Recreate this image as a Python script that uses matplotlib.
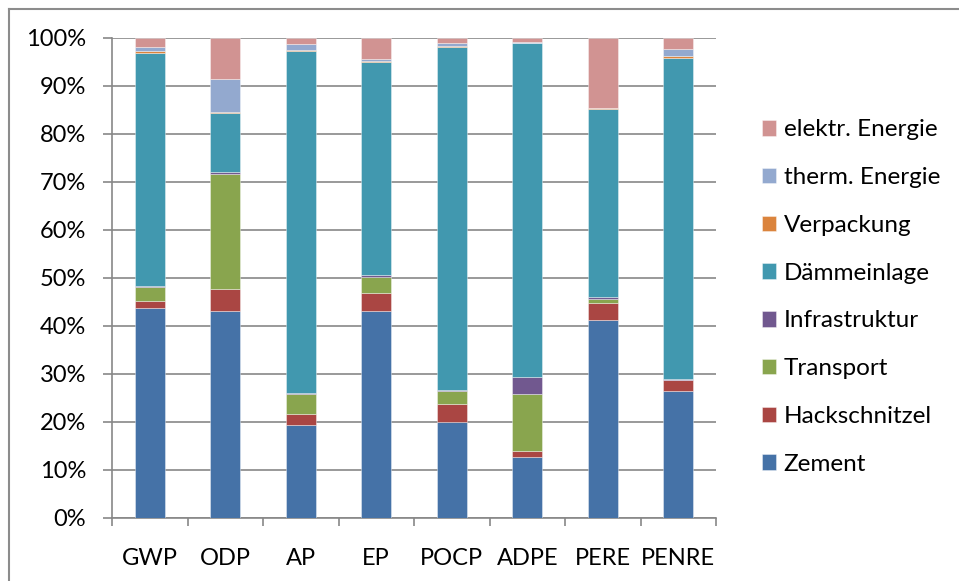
import matplotlib
matplotlib.use("Agg")
import matplotlib.pyplot as plt
from matplotlib.lines import Line2D
import numpy as np

plt.rcParams['font.family'] = ['Lato', 'DejaVu Sans']

categories = ["GWP", "ODP", "AP", "EP", "POCP", "ADPE", "PERE", "PENRE"]
series_names = ["Zement", "Hackschnitzel", "Transport", "Infrastruktur",
                "Dämmeinlage", "Verpackung", "therm. Energie", "elektr. Energie"]
zement =          [43.7, 43.0, 19.2, 43.1, 20.0, 12.7, 41.1, 26.4]
hackschnitzel =   [1.4, 4.6, 2.4, 3.8, 3.6, 1.2, 3.6, 2.2]
transport =       [3.0, 24.1, 4.2, 3.3, 2.8, 11.9, 0.9, 0.1]
infrastruktur =   [0.1, 0.4, 0.2, 0.4, 0.2, 3.6, 0.3, 0.1]
daemmeinlage =    [48.7, 12.3, 71.2, 44.3, 71.5, 69.5, 39.2, 67.1]
verpackung =      [0.3, 0.2, 0.2, 0.3, 0.3, 0.1, 0.3, 0.4]
therm_energie =   [1.0, 6.8, 1.4, 0.5, 0.6, 0.1, 0.1, 1.4]
elektr_energie =  [1.8, 8.6, 1.2, 4.3, 1.0, 0.9, 14.5, 2.3]
colors = ["#4572A7", "#AA4643", "#89A54E", "#71588F",
          "#4198AF", "#DB843D", "#93A9CF", "#D19392"]

data = [zement, hackschnitzel, transport, infrastruktur,
        daemmeinlage, verpackung, therm_energie, elektr_energie]

W, H = 959, 581
fig = plt.figure(figsize=(W / 100, H / 100), dpi=100)
ax = fig.add_axes([112 / W, 1 - 517.5 / H, (716 - 112) / W, (517.5 - 38) / H])

x = np.arange(len(categories))
bottom = np.zeros(len(categories))
handles = []
for name, vals, col in zip(series_names, data, colors):
    v = np.array(vals, dtype=float)
    b = ax.bar(x, v, bottom=bottom, width=0.4, color=col,
               edgecolor=(1, 1, 1, 0.45), linewidth=0.6, label=name, zorder=3)
    handles.append(b)
    bottom += v

grid_c = "#878787"
ax.set_xlim(-0.5, len(categories) - 0.5)
ax.set_ylim(0, 100)
ax.set_yticks(np.arange(0, 101, 10))
ax.set_yticklabels([f"{t}%" for t in range(0, 101, 10)])
ax.yaxis.grid(True, color=grid_c, linewidth=1.2, zorder=0)
ax.set_axisbelow(True)
for s in ["top", "right"]:
    ax.spines[s].set_visible(False)
for s in ["left", "bottom"]:
    ax.spines[s].set_color(grid_c)
    ax.spines[s].set_linewidth(1.2)

ax.set_xticks(x)
ax.set_xticklabels(categories)
ax.set_xticks(np.arange(-0.5, len(categories), 1), minor=True)
ax.tick_params(axis="x", which="major", length=0, pad=22, labelsize=17)
ax.tick_params(axis="x", which="minor", length=6, width=1.2, color=grid_c, direction="out")
ax.tick_params(axis="y", length=6.5, width=1.2, color=grid_c, pad=12, labelsize=17)

leg = fig.legend(handles[::-1], series_names[::-1], loc="center left",
                 bbox_to_anchor=(752 / W, 1 - 297 / H), frameon=False,
                 fontsize=17.5, handlelength=0.6, handleheight=0.6,
                 handletextpad=0.3, labelspacing=1.1, borderaxespad=0)

fig.add_artist(Line2D([9 / W, 9 / W], [0, 1 - 9 / H], color="#8c8c8c", linewidth=1.5,
                      transform=fig.transFigure))
fig.add_artist(Line2D([9 / W, 1], [1 - 9 / H, 1 - 9 / H], color="#8c8c8c", linewidth=1.5,
                      transform=fig.transFigure))

fig.savefig("out.png", dpi=100)
